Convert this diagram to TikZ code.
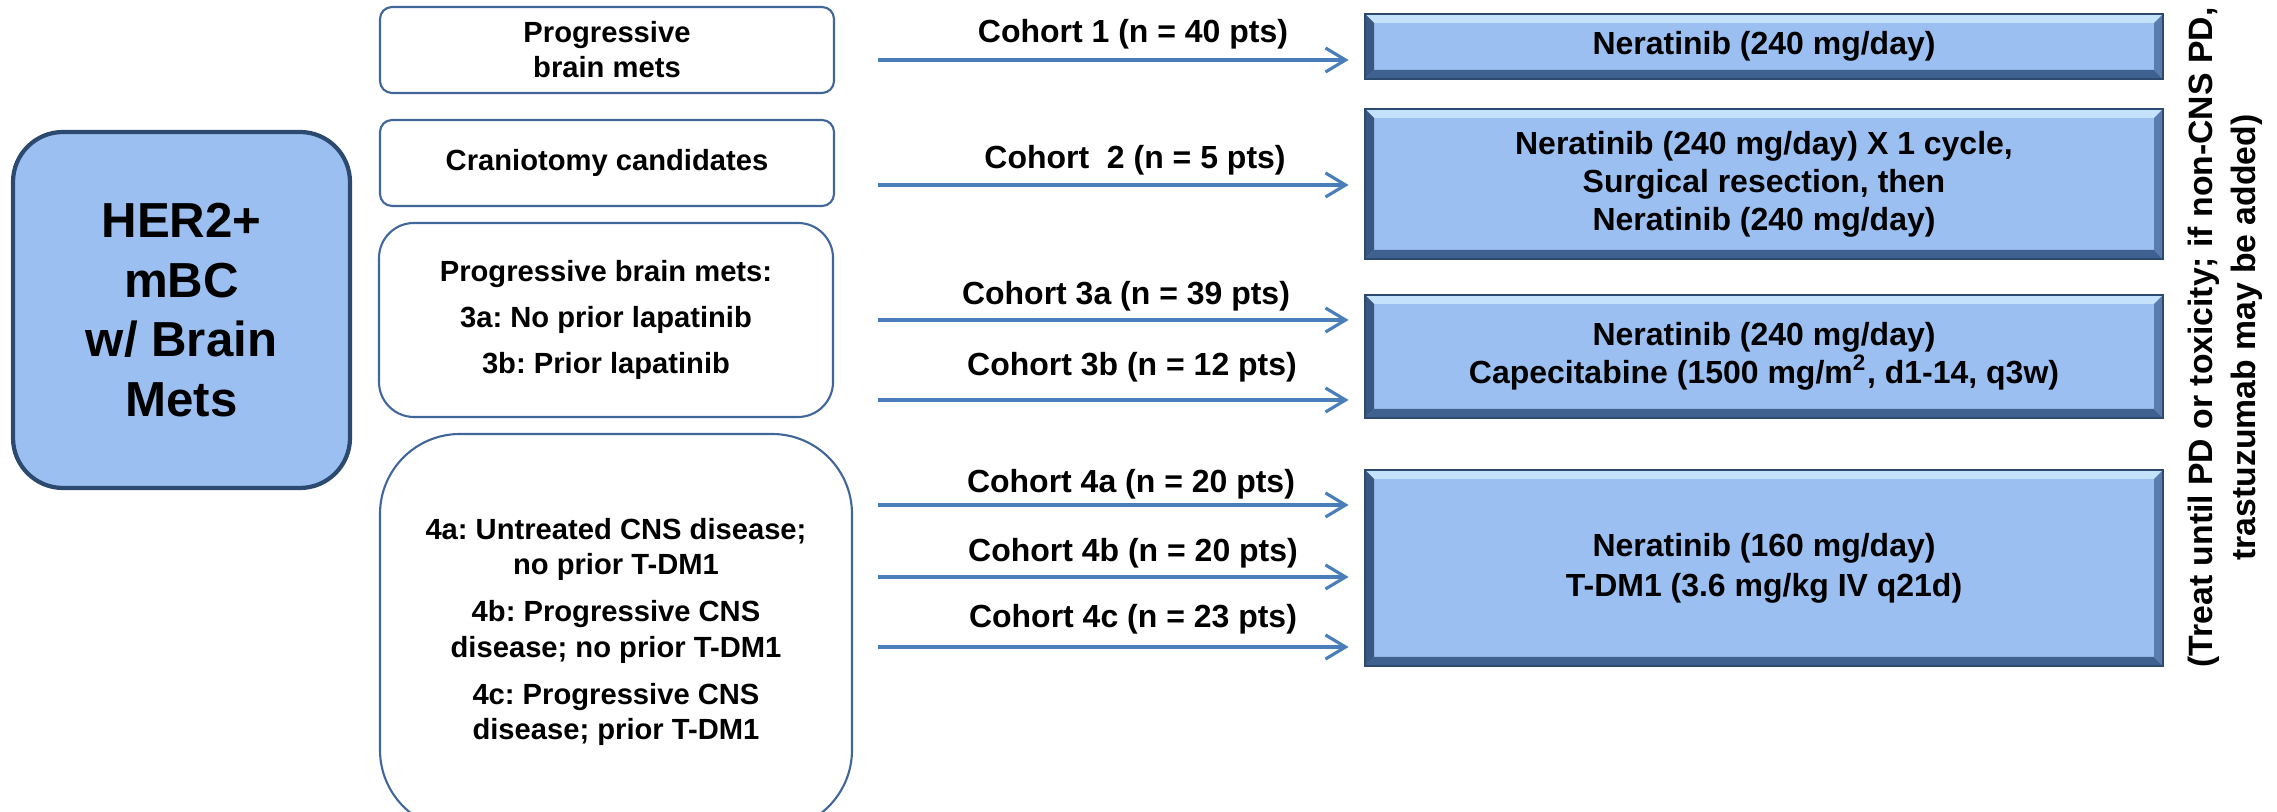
\documentclass[tikz,border=0pt]{standalone}
\usepackage{fontspec}
\setmainfont{Liberation Sans}
\usetikzlibrary{arrows.meta}
\frenchspacing

\definecolor{boxfill}{HTML}{9BBFF0}
\definecolor{boxedge}{HTML}{2C4A70}
\definecolor{bandlight}{HTML}{C4E2FB}
\definecolor{banddark}{HTML}{3E6190}
\definecolor{groupedge}{HTML}{41679A}
\definecolor{arrowblue}{HTML}{4A7EBB}

\begin{document}
\begin{tikzpicture}[
	group/.style={draw=groupedge, line width=0.6pt, fill=white, align=center, inner sep=0pt,
		font=\fontsize{8.3}{10}\selectfont\bfseries},
	regimen/.style={draw=boxedge, line width=0.8pt, fill=boxfill, minimum width=7.98cm, inner sep=0pt,
		align=center, font=\fontsize{9.1}{10.8}\selectfont\bfseries,
		path picture={
			\fill[bandlight] (path picture bounding box.north west) -- (path picture bounding box.north east)
				-- ([shift={(-0.09,-0.09)}]path picture bounding box.north east) -- ([shift={(0.09,-0.09)}]path picture bounding box.north west) -- cycle;
			\fill[banddark] (path picture bounding box.south west) -- (path picture bounding box.south east)
				-- ([shift={(-0.09,0.09)}]path picture bounding box.south east) -- ([shift={(0.09,0.09)}]path picture bounding box.south west) -- cycle;
			\fill[banddark!90!black] (path picture bounding box.north west) -- (path picture bounding box.south west)
				-- ([shift={(0.09,0.09)}]path picture bounding box.south west) -- ([shift={(0.09,-0.09)}]path picture bounding box.north west) -- cycle;
			\fill[banddark!70!boxfill] (path picture bounding box.north east) -- (path picture bounding box.south east)
				-- ([shift={(-0.09,0.09)}]path picture bounding box.south east) -- ([shift={(-0.09,-0.09)}]path picture bounding box.north east) -- cycle;
		}},
	cohort/.style={draw=arrowblue, line width=0.9pt, -{Straight Barb[length=2mm,width=2.4mm]}, shorten >=1.5mm},
	cohortlabel/.style={anchor=base, inner sep=0pt, font=\fontsize{9.1}{11}\selectfont\bfseries}
]
	%\draw[help lines] (0,0) grid (23,8);
	\useasboundingbox (0,0) rectangle (22.77,8.12);

	% patient group
	\node[draw=boxedge, line width=1.2pt, fill=boxfill, rounded corners=0.5cm, minimum width=3.37cm, minimum height=3.56cm,
		align=center, font=\fontsize{14}{17}\selectfont\bfseries] (her) at (1.815,5.02) {HER2+\\mBC\\w/ Brain\\Mets};

	% cohorts
	\node[group, rounded corners=0.12cm, minimum width=4.54cm, minimum height=0.86cm] (prog) at (6.07,7.62) {Progressive\\brain mets};
	\node[group, rounded corners=0.12cm, minimum width=4.54cm, minimum height=0.86cm] (cran) at (6.07,6.49) {Craniotomy candidates};
	\node[group, rounded corners=0.35cm, minimum width=4.54cm, minimum height=1.94cm] (lapa) at (6.06,4.92)
		{Progressive brain mets:\\[3.1pt]3a: No prior lapatinib\\[3.1pt]3b: Prior lapatinib};
	\node[group, rounded corners=0.8cm, minimum width=4.72cm, minimum height=3.96cm] (tdm) at (6.16,1.80)
		{4a: Untreated CNS disease;\\no prior T-DM1\\[3.4pt]4b: Progressive CNS\\disease; no prior T-DM1\\[3.4pt]4c: Progressive CNS\\disease; prior T-DM1};

	% treatments
	\node[regimen, minimum height=0.65cm] (ner1) at (17.64,7.655) {Neratinib (240 mg/day)};
	\node[regimen, minimum height=1.50cm] (ner2) at (17.64,6.28)
		{Neratinib (240 mg/day) X 1 cycle,\\Surgical resection, then\\Neratinib (240 mg/day)};
	\node[regimen, minimum height=1.23cm] (ner3) at (17.64,4.555)
		{Neratinib (240 mg/day)\\Capecitabine (1500 mg/m\textsuperscript{2}, d1-14, q3w)};
	\node[regimen, minimum height=1.96cm, font=\fontsize{9.1}{11.4}\selectfont\bfseries] (ner4) at (17.64,2.44)
		{Neratinib (160 mg/day)\\T-DM1 (3.6 mg/kg IV q21d)};

	\node[rotate=90, align=center, font=\fontsize{9.6}{12.2}\selectfont\bfseries] (note) at (22.25,4.745)
		{(Treat until PD or toxicity; if non-CNS PD,\\trastuzumab may be added)};

	% arrows
	\coordinate (a1) at (8.78,7.52);
	\coordinate (a2) at (8.78,6.27);
	\coordinate (a3a) at (8.78,4.92);
	\coordinate (a3b) at (8.78,4.12);
	\coordinate (a4a) at (8.78,3.07);
	\coordinate (a4b) at (8.78,2.35);
	\coordinate (a4c) at (8.78,1.65);
	\draw[cohort] (a1) -- (a1 -| ner1.west);
	\draw[cohort] (a2) -- (a2 -| ner2.west);
	\draw[cohort] (a3a) -- (a3a -| ner3.west);
	\draw[cohort] (a3b) -- (a3b -| ner3.west);
	\draw[cohort] (a4a) -- (a4a -| ner4.west);
	\draw[cohort] (a4b) -- (a4b -| ner4.west);
	\draw[cohort] (a4c) -- (a4c -| ner4.west);

	\node[cohortlabel] (l1) at (11.33,7.69) {Cohort 1 (n = 40 pts)};
	\node[cohortlabel] (l2) at (11.35,6.43) {Cohort\ \ 2 (n = 5 pts)};
	\node[cohortlabel] (l3a) at (11.26,5.07) {Cohort 3a (n = 39 pts)};
	\node[cohortlabel] (l3b) at (11.32,4.36) {Cohort 3b (n = 12 pts)};
	\node[cohortlabel] (l4a) at (11.31,3.19) {Cohort 4a (n = 20 pts)};
	\node[cohortlabel] (l4b) at (11.33,2.50) {Cohort 4b (n = 20 pts)};
	\node[cohortlabel] (l4c) at (11.33,1.84) {Cohort 4c (n = 23 pts)};
\end{tikzpicture}
\end{document}
